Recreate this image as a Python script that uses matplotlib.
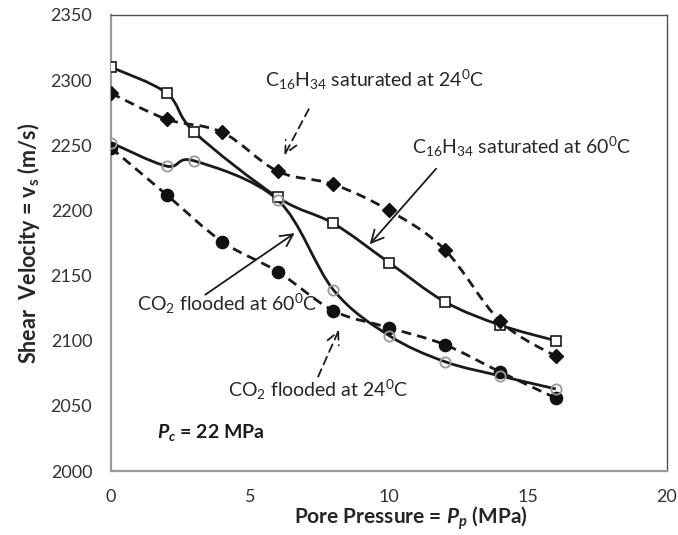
import numpy as np
import matplotlib.pyplot as plt
from matplotlib.path import Path
from matplotlib.patches import PathPatch

plt.rcParams['font.family'] = ['Lato', 'DejaVu Sans']
plt.rcParams['mathtext.fontset'] = 'custom'
plt.rcParams['mathtext.rm'] = 'Lato'
plt.rcParams['mathtext.it'] = 'Lato:italic'
plt.rcParams['mathtext.bf'] = 'Lato:bold'
plt.rcParams['mathtext.bfit'] = 'Lato:italic:bold'

# pore pressure (MPa) and shear velocity (m/s) for each sample
p_c16_60 = [0, 2, 3, 6, 8, 10, 12, 14, 16]
vs_c16_60 = [2310, 2290, 2260, 2210, 2190, 2160, 2130, 2112, 2100]

p_c16_24 = [0, 2, 4, 6, 8, 10, 12, 14, 16]
vs_c16_24 = [2290, 2270, 2260, 2230, 2220, 2200, 2170, 2115, 2088]

p_co2_60 = [0, 2, 3, 6, 8, 10, 12, 14, 16]
vs_co2_60 = [2252, 2234, 2238, 2208, 2139, 2104, 2084, 2073, 2063]

p_co2_24 = [0, 2, 4, 6, 8, 10, 12, 14, 16]
vs_co2_24 = [2248, 2212, 2176, 2153, 2123, 2110, 2097, 2076, 2056]


def smooth_path(x, y):
    # excel-style smoothed line: cubic bezier through every point
    pts = np.column_stack([x, y]).astype(float)
    ext = np.vstack([pts[0], pts, pts[-1]])
    verts = [pts[0]]
    codes = [Path.MOVETO]
    for i in range(len(pts) - 1):
        p0, p1, p2, p3 = ext[i], ext[i + 1], ext[i + 2], ext[i + 3]
        verts += [p1 + (p2 - p0) / 6, p2 - (p3 - p1) / 6, p2]
        codes += [Path.CURVE4] * 3
    return Path(verts, codes)


fig = plt.figure(figsize=(6.78, 5.35), dpi=100)
ax = fig.add_axes([0.1637, 0.1196, 0.8201, 0.8524])

dash = (0, (3.5, 2.2))
for x, y, ls in [(p_c16_60, vs_c16_60, '-'), (p_c16_24, vs_c16_24, dash),
                 (p_co2_24, vs_co2_24, dash), (p_co2_60, vs_co2_60, '-')]:
    ax.add_patch(PathPatch(smooth_path(x, y), fill=False, edgecolor='#1a1a1a',
                           lw=2.0, linestyle=ls, zorder=2))

ax.plot(p_c16_60, vs_c16_60, 's', ms=7.8, mfc='white', mec='#1a1a1a', mew=1.2,
        ls='none', zorder=3)
ax.plot(p_c16_24, vs_c16_24, 'D', ms=7.0, mfc='#111111', mec='#111111', ls='none', zorder=3)
ax.plot(p_co2_24, vs_co2_24, 'o', ms=8.8, mfc='#111111', mec='#111111', ls='none', zorder=3)
ax.plot(p_co2_60, vs_co2_60, 'o', ms=7.4, mfc='none', mec='#999999', mew=1.3,
        ls='none', zorder=4)

ax.set_xlim(0, 20)
ax.set_ylim(2000, 2350)
ax.set_xticks(range(0, 21, 5))
ax.set_yticks(range(2000, 2351, 50))
ax.tick_params(axis='y', length=0, pad=13.5, labelsize=13, labelcolor='#333333')
ax.tick_params(axis='x', length=0, pad=13, labelsize=13, labelcolor='#333333')

for side in ['top', 'right']:
    ax.spines[side].set_color('#505050')
    ax.spines[side].set_linewidth(1.0)
for side in ['left', 'bottom']:
    ax.spines[side].set_color('#9a9a9a')
    ax.spines[side].set_linewidth(1.6)

ax.set_xlabel(r'Pore Pressure = $\mathbfit{P}_\mathbfit{p}$ (MPa)', fontsize=15,
              fontweight='bold', color='#262626')
ax.xaxis.set_label_coords(0.54, -0.074)
ax.set_ylabel(r'Shear  Velocity = v$_\mathbf{s}$ (m/s)', fontsize=15.5,
              fontweight='bold', color='#262626', labelpad=6)

# labels with arrows pointing at the curves
arrow_solid = dict(arrowstyle='->', lw=1.3, color='#1a1a1a', mutation_scale=22)
arrow_dash = dict(arrowstyle='->', lw=1.3, color='#1a1a1a', mutation_scale=22,
                  linestyle=(0, (4.5, 3)))
ax.annotate('', xy=(6.19, 2240.5), xytext=(7.16, 2279.6), arrowprops=arrow_dash)
ax.annotate('', xy=(9.24, 2172.4), xytext=(11.76, 2233.6), arrowprops=arrow_solid)
ax.annotate('', xy=(6.69, 2183.8), xytext=(3.31, 2134.1), arrowprops=arrow_solid)
ax.annotate('', xy=(8.24, 2110.3), xytext=(7.41, 2070.5), arrowprops=arrow_dash)

tkw = dict(fontsize=14, color='#262626', va='baseline', ha='left')
ax.text(5.54, 2294.9, r'C$_{16}$H$_{34}$ saturated at 24$^0$C', **tkw)
ax.text(10.83, 2243.6, r'C$_{16}$H$_{34}$ saturated at 60$^0$C', **tkw)
ax.text(0.935, 2122.6, r'CO$_2$ flooded at 60$^0$C', **tkw)
ax.text(4.21, 2056.7, r'CO$_2$ flooded at 24$^0$C', **tkw)
ax.text(1.65, 2025.3, r'$\mathbfit{P}_\mathbfit{c}$ = 22 MPa', fontsize=14,
        fontweight='bold', color='#1a1a1a', va='baseline', ha='left')

plt.savefig('out.png', dpi=100)
